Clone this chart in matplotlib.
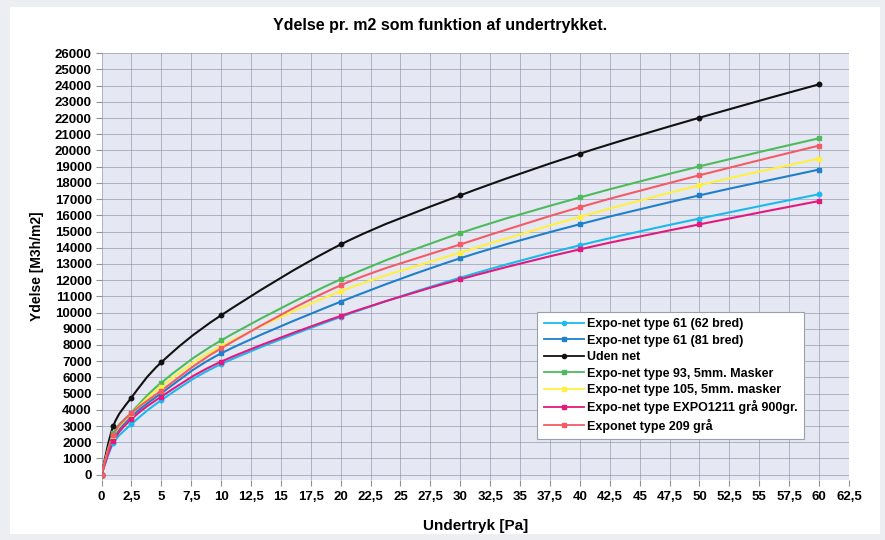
import matplotlib
matplotlib.use("Agg")
import matplotlib.pyplot as plt
import matplotlib.patches as mpatches
import matplotlib.lines as mlines
from matplotlib.path import Path
import numpy as np

# ── data ──────────────────────────────────────────────────────────────────────
PRESSURE = [0, 1, 2.5, 5, 10, 20, 30, 40, 50, 60]

NET61_62 = [0, 1950, 3110, 4590, 6820, 9730, 12150, 14150, 15800, 17300]
NET61_81 = [0, 2250, 3580, 5020, 7480, 10670, 13350, 15450, 17230, 18820]
NO_NET   = [0, 3030, 4750, 6930, 9830, 14200, 17230, 19800, 22020, 24080]
NET93    = [0, 2560, 3830, 5670, 8280, 12050, 14900, 17100, 19020, 20750]
NET105   = [0, 2400, 3750, 5430, 7930, 11310, 13700, 15900, 17850, 19500]
EXPO1211 = [0, 2090, 3420, 4810, 6970, 9790, 12050, 13900, 15440, 16880]
NET209   = [0, 2460, 3790, 5180, 7790, 11680, 14200, 16500, 18470, 20300]

LABELS = ["Expo-net type 61 (62 bred)", "Expo-net type 61 (81 bred)", "Uden net",
          "Expo-net type 93, 5mm. Masker", "Expo-net type 105, 5mm. masker",
          "Expo-net type EXPO1211 grå 900gr.", "Exponet type 209 grå"]
SERIES = [NET61_62, NET61_81, NO_NET, NET93, NET105, EXPO1211, NET209]
COLORS = ["#1cb9ee", "#1f80c9", "#111111", "#4dbb5c", "#fff040", "#e3197f", "#f45b66"]
MARKERS = ["o", "s", "o", "s", "s", "s", "s"]

NARROW = ["Liberation Sans Narrow", "Liberation Sans", "DejaVu Sans"]
ARIAL = ["Liberation Sans", "DejaVu Sans"]


def smooth_path(xs, ys):
    """Excel-like smoothed line: cubic Bezier through every point."""
    pts = np.column_stack([xs, ys]).astype(float)
    n = len(pts)
    verts = [pts[0]]
    codes = [Path.MOVETO]
    for i in range(n - 1):
        p0 = pts[i - 1] if i > 0 else pts[i]
        p1, p2 = pts[i], pts[i + 1]
        p3 = pts[i + 2] if i + 2 < n else pts[i + 1]
        c1 = p1 + (p2 - p0) / 6.0
        c2 = p2 - (p3 - p1) / 6.0
        verts += [c1, c2, p2]
        codes += [Path.CURVE4] * 3
    return Path(verts, codes)


fig = plt.figure(figsize=(8.85, 5.4), dpi=100)
fig.patch.set_facecolor("#eceef1")
fig.add_artist(mpatches.Rectangle((0.011, 0.012), 0.983, 0.975,
                                  transform=fig.transFigure,
                                  facecolor="white", edgecolor="none", zorder=0))

ax = fig.add_axes([0.1147, 0.112, 0.8446, 0.7895])
ax.set_facecolor("#e5e8f3")

for ys, col, mk in zip(SERIES, COLORS, MARKERS):
    ax.add_patch(mpatches.PathPatch(smooth_path(PRESSURE, ys), facecolor="none",
                                    edgecolor=col, lw=1.5, zorder=3))
    ax.plot(PRESSURE, ys, linestyle="none", marker=mk, ms=3.2, color=col, zorder=4)

ax.set_xlim(0, 62.5)
ax.set_ylim(-300, 26000)
xt = np.arange(0, 62.51, 2.5)
ax.set_xticks(xt)
ax.set_xticklabels([f"{v:g}".replace(".", ",") for v in xt],
                   family=NARROW, fontsize=9.5, fontweight="bold")
yt = np.arange(0, 26001, 1000)
ax.set_yticks(yt)
ax.set_yticklabels([f"{int(v)}" for v in yt], family=ARIAL, fontsize=9.5,
                   fontweight="bold")
ax.tick_params(axis="x", length=4, color="#8a90a2", pad=4)
ax.tick_params(axis="y", length=4, color="#8a90a2", pad=3)
ax.grid(color="#8d93a8", lw=0.6, alpha=0.75, zorder=1)
ax.set_axisbelow(True)
for s in ax.spines.values():
    s.set_visible(False)

ax.set_xlabel("Undertryk [Pa]", family=NARROW, fontsize=11, fontweight="bold",
              labelpad=12)
ax.set_ylabel("Ydelse [M3h/m2]", family=ARIAL, fontsize=10, fontweight="bold",
              labelpad=8)
fig.text(0.497, 0.953, "Ydelse pr. m2 som funktion af undertrykket.",
         family=NARROW, fontsize=11.5, fontweight="bold", ha="center", va="center")

handles = [mlines.Line2D([], [], color=c, marker=m, ms=3, lw=1.3, label=l)
           for c, m, l in zip(COLORS, MARKERS, LABELS)]
leg = ax.legend(handles=handles, loc="lower right", bbox_to_anchor=(0.94, 0.095),
                prop={"family": ARIAL, "size": 9, "weight": "bold"},
                frameon=True, fancybox=False, framealpha=1, edgecolor="#9aa0aa",
                handlelength=3.2, handletextpad=0.3, labelspacing=0.35,
                borderpad=0.5, borderaxespad=0)
leg.get_frame().set_linewidth(0.8)
leg.set_zorder(6)

fig.savefig("out.png", dpi=100, facecolor=fig.get_facecolor())
